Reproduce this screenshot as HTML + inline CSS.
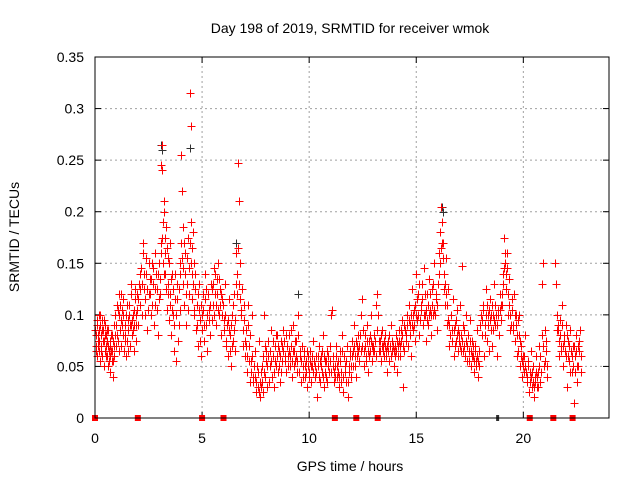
<!DOCTYPE html>
<html><head><meta charset="utf-8"><style>
html,body{margin:0;padding:0;background:#fff;}
svg{display:block;font-family:"Liberation Sans",sans-serif;}
</style></head><body>
<svg id="chart" width="640" height="480">
<text x="350" y="33" font-size="14" text-anchor="middle">Day 198 of 2019, SRMTID for receiver wmok</text>
<text x="350" y="471" font-size="14" text-anchor="middle">GPS time / hours</text>
<text transform="translate(19,237) rotate(-90)" font-size="14" text-anchor="middle">SRMTID / TECUs</text>
<g id="grid"></g>
<g id="ticks"></g>
<g id="black"></g>
<g id="red"></g>
<rect x="95" y="57" width="514" height="361" fill="none" stroke="#000" stroke-width="1"/>
</svg>
<script>
const xTicks = [0,5,10,15,20];
const yTicks = [0,0.05,0.1,0.15,0.2,0.25,0.3,0.35];
const yTickLabels = ["0","0.05","0.1","0.15","0.2","0.25","0.3","0.35"];
const redPts = [[0.02,.085],[0.05,.07],[0.08,.095],[0.1,.06],[0.12,.08],[0.15,.075],[0.18,.1],[0.2,.065],[0.22,.09],[0.25,.055],[0.28,.08],[0.3,.07],[0.33,.095],[0.35,.06],[0.38,.085],[0.4,.075],[0.42,.05],[0.45,.065],[0.48,.09],[0.5,.07],[0.52,.08],[0.55,.06],[0.58,.075],[0.6,.05],[0.62,.085],[0.65,.065],[0.68,.07],[0.7,.045],[0.72,.06],[0.75,.08],[0.78,.055],[0.8,.065],[0.82,.04],[0.85,.075],[0.88,.09],[0.9,.06],[0.92,.1],[0.95,.08],[0.98,.07],
[1.0,.09],[1.03,.11],[1.06,.075],[1.1,.1],[1.13,.12],[1.16,.085],[1.2,.095],[1.23,.07],[1.26,.105],[1.3,.08],[1.33,.115],[1.36,.065],[1.4,.09],[1.43,.1],[1.46,.06],[1.5,.075],[1.53,.095],[1.56,.085],[1.6,.11],[1.63,.07],[1.66,.09],[1.7,.13],[1.73,.08],[1.76,.1],[1.8,.065],[1.83,.09],[1.86,.115],[1.9,.075],[1.93,.1],[1.96,.12],
[2.0,.09],[2.05,.13],[2.1,.11],[2.15,.145],[2.2,.1],[2.25,.17],[2.3,.125],[2.35,.115],[2.4,.14],[2.45,.085],[2.5,.12],[2.55,.135],[2.6,.1],[2.65,.15],[2.7,.13],[2.75,.09],[2.8,.11],[2.85,.14],[2.9,.125],[2.95,.08],
[3.0,.15],[3.03,.12],[3.06,.17],[3.1,.245],[3.12,.265],[3.15,.24],[3.18,.19],[3.2,.14],[3.22,.21],[3.25,.175],[3.28,.16],[3.3,.125],[3.33,.185],[3.36,.105],[3.4,.155],[3.43,.13],[3.46,.095],[3.48,.17],
[3.5,.12],[3.55,.08],[3.6,.14],[3.65,.1],[3.7,.065],[3.75,.115],[3.8,.055],[3.85,.13],[3.9,.09],[3.95,.15],[3.98,.105],
[4.0,.17],[4.03,.255],[4.06,.22],[4.1,.185],[4.13,.145],[4.16,.11],[4.2,.16],[4.25,.09],[4.3,.13],[4.35,.175],[4.4,.12],[4.45,.315],[4.47,.283],[4.49,.19],[4.52,.165],[4.55,.14],[4.58,.18],[4.6,.1],[4.63,.15],[4.66,.125],[4.7,.085],
[4.75,.11],[4.8,.07],[4.85,.13],[4.9,.095],[4.95,.06],[5.0,.1],[5.05,.12],[5.1,.075],[5.15,.14],[5.2,.09],[5.25,.065],[5.3,.105],[5.35,.08],[5.4,.13],[5.45,.095],
[5.5,.11],[5.55,.145],[5.6,.12],[5.65,.09],[5.7,.135],[5.75,.15],[5.8,.1],[5.85,.125],[5.9,.08],[5.95,.115],[6.0,.095],[6.05,.13],
[6.1,.07],[6.15,.09],[6.2,.06],[6.25,.115],[6.3,.08],[6.35,.05],[6.4,.1],[6.45,.075],[6.5,.12],[6.55,.065],[6.6,.16],[6.65,.14],[6.7,.247],[6.72,.21],[6.75,.15],[6.8,.1],[6.85,.125],[6.9,.07],[6.95,.095],
[7.0,.06],[7.05,.085],[7.1,.045],[7.15,.11],[7.2,.07],[7.25,.035],[7.3,.055],[7.35,.1],[7.4,.04],[7.45,.065],[7.5,.025],[7.55,.05],[7.6,.03],[7.65,.075],[7.7,.02],[7.75,.045],[7.8,.035],[7.85,.06],[7.9,.1],[7.95,.04],
[8.0,.065],[8.05,.03],[8.1,.075],[8.15,.05],[8.2,.085],[8.25,.04],[8.3,.06],[8.35,.03],[8.4,.07],[8.45,.05],[8.5,.08],[8.55,.045],[8.6,.065],[8.65,.035],[8.7,.075],[8.75,.055],[8.8,.085],[8.85,.06],[8.9,.045],[8.95,.07],
[9.0,.06],[9.05,.08],[9.1,.05],[9.15,.07],[9.2,.04],[9.25,.09],[9.3,.065],[9.35,.055],[9.4,.075],[9.45,.045],[9.5,.1],[9.55,.06],[9.6,.035],[9.65,.07],[9.7,.05],[9.75,.065],[9.8,.04],[9.85,.055],[9.9,.03],[9.95,.06],
[10.0,.045],[10.05,.065],[10.1,.035],[10.15,.05],[10.2,.075],[10.25,.04],[10.3,.06],[10.35,.02],[10.4,.05],[10.45,.07],[10.5,.035],[10.55,.06],[10.6,.045],[10.65,.08],[10.7,.03],[10.75,.055],[10.8,.04],[10.85,.065],[10.9,.05],[10.95,.07],
[11.0,.045],[11.05,.105],[11.1,.06],[11.15,.035],[11.2,.05],[11.25,.07],[11.3,.04],[11.35,.055],[11.4,.03],[11.45,.065],[11.5,.045],[11.55,.08],[11.6,.025],[11.65,.05],[11.7,.035],[11.75,.07],[11.8,.02],[11.85,.045],[11.9,.06],[11.95,.04],
[12.0,.075],[12.05,.05],[12.1,.09],[12.15,.06],[12.2,.04],[12.25,.07],[12.3,.08],[12.35,.055],[12.4,.065],[12.45,.115],[12.5,.085],[12.55,.05],[12.6,.07],[12.65,.06],[12.7,.09],[12.75,.045],[12.8,.075],[12.85,.065],[12.9,.1],[12.95,.055],
[13.0,.07],[13.05,.08],[13.1,.06],[13.15,.12],[13.2,.1],[13.25,.065],[13.3,.075],[13.35,.055],[13.4,.085],[13.45,.07],[13.5,.06],[13.55,.08],[13.6,.065],[13.65,.045],[13.7,.075],[13.75,.055],[13.8,.09],[13.85,.065],[13.9,.07],[13.95,.05],[14.0,.06],[14.05,.08],[14.1,.045],[14.15,.07],[14.2,.085],[14.25,.06],[14.3,.075],[14.35,.095],[14.4,.03],[14.45,.065],
[14.5,.08],[14.55,.1],[14.6,.07],[14.65,.11],[14.7,.09],[14.75,.06],[14.8,.125],[14.85,.085],[14.9,.105],[14.95,.075],[15.0,.14],[15.05,.095],[15.1,.12],[15.15,.08],[15.2,.11],[15.25,.13],[15.3,.09],[15.35,.145],[15.4,.1],[15.45,.075],
[15.5,.12],[15.55,.09],[15.6,.135],[15.65,.105],[15.7,.08],[15.75,.125],[15.8,.1],[15.85,.15],[15.9,.115],[15.95,.085],[16.0,.13],[16.05,.16],[16.1,.18],[16.15,.205],[16.2,.19],[16.25,.17],[16.3,.14],[16.35,.11],[16.4,.155],[16.45,.09],
[16.5,.125],[16.55,.07],[16.6,.1],[16.65,.085],[16.7,.115],[16.75,.06],[16.8,.09],[16.85,.075],[16.9,.105],[16.95,.065],
[17.0,.08],[17.05,.11],[17.1,.065],[17.15,.147],[17.2,.09],[17.25,.07],[17.3,.1],[17.35,.055],[17.4,.08],[17.45,.065],[17.5,.095],[17.55,.05],[17.6,.075],[17.65,.06],[17.7,.045],[17.75,.07],[17.8,.055],[17.85,.085],[17.9,.04],[17.95,.065],
[18.0,.1],[18.05,.08],[18.1,.11],[18.15,.06],[18.2,.09],[18.25,.125],[18.3,.075],[18.35,.1],[18.4,.065],[18.45,.115],[18.5,.085],[18.55,.07],[18.6,.1],[18.65,.13],[18.7,.09],[18.75,.06],[18.8,.105],[18.85,.08],[18.9,.12],[18.95,.095],
[19.0,.11],[19.05,.14],[19.1,.175],[19.15,.15],[19.2,.125],[19.25,.16],[19.3,.1],[19.35,.135],[19.4,.085],[19.45,.115],
[19.5,.09],[19.55,.12],[19.6,.075],[19.65,.1],[19.7,.06],[19.75,.095],[19.8,.08],[19.85,.05],[19.9,.07],[19.95,.04],
[20.0,.06],[20.05,.045],[20.1,.08],[20.15,.035],[20.2,.055],[20.25,.025],[20.3,.045],[20.35,.065],[20.4,.03],[20.45,.05],[20.5,.02],[20.55,.04],[20.6,.06],[20.65,.03],[20.7,.045],[20.75,.07],[20.8,.035],[20.85,.13],[20.9,.15],[20.95,.05],
[21.0,.085],[21.05,.065],[21.1,.04],
[21.5,.15],[21.55,.1],[21.6,.085],[21.65,.06],[21.7,.095],[21.75,.07],[21.8,.11],[21.85,.05],[21.9,.08],[21.95,.065],
[22.0,.09],[22.05,.03],[22.1,.075],[22.15,.055],[22.2,.085],[22.25,.045],[22.3,.07],[22.35,.015],[22.4,.06],[22.45,.08],[22.5,.035],[22.55,.05],[22.6,.065],[22.65,.085],[22.7,.045]];
const redPts2 = [[0.03,.065],[0.07,.08],[0.11,.09],[0.14,.07],[0.17,.085],[0.21,.075],[0.24,.1],[0.27,.065],[0.31,.085],[0.36,.075],[0.41,.095],[0.46,.08],[0.51,.06],[0.56,.085],[0.61,.07],[0.66,.055],[0.71,.075],[0.76,.065],[0.81,.08],[0.86,.055],[0.91,.07],[0.96,.09],
[1.02,.08],[1.08,.105],[1.12,.065],[1.18,.11],[1.22,.12],[1.28,.09],[1.32,.1],[1.38,.075],[1.42,.08],[1.48,.11],[1.52,.065],[1.58,.1],[1.62,.09],[1.68,.12],[1.72,.095],[1.78,.085],[1.82,.105],[1.88,.125],[1.92,.09],[1.98,.105],
[2.03,.115],[2.08,.14],[2.12,.125],[2.18,.13],[2.22,.16],[2.28,.14],[2.32,.1],[2.38,.155],[2.42,.125],[2.48,.105],[2.52,.15],[2.58,.12],[2.62,.135],[2.68,.11],[2.72,.145],[2.78,.125],[2.82,.16],[2.88,.105],[2.92,.14],[2.97,.115],
[3.02,.135],[3.08,.16],[3.14,.175],[3.19,.15],[3.24,.2],[3.29,.14],[3.34,.165],[3.39,.12],[3.44,.15],[3.49,.11],[3.54,.135],[3.59,.105],[3.64,.125],[3.69,.09],[3.74,.14],[3.79,.1],[3.84,.115],[3.89,.075],[3.94,.125],[3.99,.14],
[4.04,.155],[4.09,.13],[4.14,.17],[4.19,.14],[4.24,.12],[4.29,.155],[4.34,.105],[4.39,.145],[4.44,.17],[4.5,.15],[4.54,.115],[4.59,.13],[4.64,.105],[4.69,.14],[4.74,.09],[4.79,.12],[4.84,.105],[4.89,.075],[4.94,.11],[4.99,.085],
[5.04,.105],[5.09,.09],[5.14,.115],[5.19,.125],[5.24,.1],[5.29,.12],[5.34,.095],[5.39,.11],[5.44,.125],[5.49,.13],[5.54,.1],[5.59,.14],[5.64,.11],[5.69,.12],[5.74,.105],[5.79,.135],[5.84,.11],[5.89,.12],[5.94,.1],[5.99,.11],
[6.04,.085],[6.09,.1],[6.14,.075],[6.19,.095],[6.24,.085],[6.29,.065],[6.34,.09],[6.39,.07],[6.44,.11],[6.49,.085],[6.54,.095],[6.59,.13],[6.64,.12],[6.69,.165],[6.74,.13],[6.79,.115],[6.84,.105],[6.89,.085],[6.94,.11],[6.99,.075],
[7.04,.07],[7.09,.06],[7.14,.09],[7.19,.055],[7.24,.08],[7.29,.045],[7.34,.06],[7.39,.035],[7.44,.05],[7.49,.04],[7.54,.035],[7.59,.045],[7.64,.025],[7.69,.035],[7.74,.03],[7.79,.05],[7.84,.025],[7.89,.045],[7.94,.07],[7.99,.055],
[8.04,.05],[8.09,.06],[8.14,.035],[8.19,.065],[8.24,.055],[8.29,.075],[8.34,.045],[8.39,.055],[8.44,.08],[8.49,.06],[8.54,.07],[8.59,.05],[8.64,.06],[8.69,.045],[8.74,.07],[8.79,.065],[8.84,.075],[8.89,.055],[8.94,.08],[8.99,.05],
[9.04,.065],[9.09,.06],[9.14,.085],[9.19,.055],[9.24,.065],[9.29,.05],[9.34,.075],[9.39,.06],[9.44,.055],[9.49,.08],[9.54,.045],[9.59,.065],[9.64,.055],[9.69,.04],[9.74,.06],[9.79,.05],[9.84,.045],[9.89,.065],[9.94,.05],[9.99,.04],
[10.04,.055],[10.09,.05],[10.14,.06],[10.19,.045],[10.24,.055],[10.29,.05],[10.34,.045],[10.39,.06],[10.44,.04],[10.49,.055],[10.54,.05],[10.59,.065],[10.64,.04],[10.69,.06],[10.74,.045],[10.79,.055],[10.84,.035],[10.89,.06],[10.94,.045],[10.99,.055],
[11.04,.1],[11.09,.05],[11.14,.045],[11.19,.04],[11.24,.06],[11.29,.05],[11.34,.045],[11.39,.04],[11.44,.055],[11.49,.035],[11.54,.065],[11.59,.04],[11.64,.06],[11.69,.045],[11.74,.055],[11.79,.035],[11.84,.05],[11.89,.065],[11.94,.05],[11.99,.06],
[12.04,.065],[12.09,.07],[12.14,.05],[12.19,.075],[12.24,.06],[12.29,.065],[12.34,.07],[12.39,.08],[12.44,.1],[12.49,.07],[12.54,.065],[12.59,.08],[12.64,.055],[12.69,.075],[12.74,.065],[12.79,.06],[12.84,.08],[12.89,.075],[12.94,.07],[12.99,.065],
[13.04,.065],[13.09,.075],[13.14,.11],[13.19,.085],[13.24,.075],[13.29,.065],[13.34,.08],[13.39,.07],[13.44,.065],[13.49,.075],[13.54,.07],[13.59,.06],[13.64,.07],[13.69,.065],[13.74,.08],[13.79,.07],[13.84,.06],[13.89,.075],[13.94,.065],[13.99,.07],
[14.04,.065],[14.09,.075],[14.14,.06],[14.19,.075],[14.24,.07],[14.29,.085],[14.34,.08],[14.39,.07],[14.44,.09],[14.49,.085],[14.54,.075],[14.59,.09],[14.64,.095],[14.69,.08],[14.74,.1],[14.79,.09],[14.84,.1],[14.89,.09],[14.94,.11],[14.99,.1],
[15.04,.115],[15.09,.1],[15.14,.13],[15.19,.095],[15.24,.105],[15.29,.115],[15.34,.1],[15.39,.12],[15.44,.105],[15.49,.095],[15.54,.11],[15.59,.1],[15.64,.12],[15.69,.1],[15.74,.11],[15.79,.13],[15.84,.105],[15.89,.1],[15.94,.12],[15.99,.11],
[16.04,.14],[16.09,.15],[16.14,.165],[16.19,.17],[16.24,.155],[16.29,.125],[16.34,.13],[16.39,.12],[16.44,.11],[16.49,.095],[16.54,.09],[16.59,.08],[16.64,.1],[16.69,.075],[16.74,.085],[16.79,.07],[16.84,.095],[16.89,.08],[16.94,.085],[16.99,.075],
[17.04,.07],[17.09,.08],[17.14,.075],[17.19,.065],[17.24,.085],[17.29,.06],[17.34,.075],[17.39,.07],[17.44,.055],[17.49,.075],[17.54,.065],[17.59,.06],[17.64,.07],[17.69,.055],[17.74,.065],[17.79,.05],[17.84,.06],[17.89,.055],[17.94,.05],[17.99,.09],
[18.04,.1],[18.09,.095],[18.14,.105],[18.19,.08],[18.24,.1],[18.29,.11],[18.34,.09],[18.39,.105],[18.44,.095],[18.49,.1],[18.54,.11],[18.59,.085],[18.64,.095],[18.69,.11],[18.74,.1],[18.79,.09],[18.84,.1],[18.89,.105],[18.94,.11],[18.99,.12],
[19.04,.13],[19.09,.145],[19.14,.16],[19.19,.14],[19.24,.145],[19.29,.12],[19.34,.11],[19.39,.1],[19.44,.09],[19.49,.105],[19.54,.085],[19.59,.1],[19.64,.09],[19.69,.08],[19.74,.065],[19.79,.1],[19.84,.075],[19.89,.06],[19.94,.055],[19.99,.05],
[20.04,.06],[20.09,.05],[20.14,.045],[20.19,.04],[20.24,.05],[20.29,.035],[20.34,.04],[20.39,.045],[20.44,.035],[20.49,.03],[20.54,.035],[20.59,.045],[20.64,.04],[20.69,.03],[20.74,.05],[20.79,.06],[20.84,.045],[20.89,.08],[20.94,.07],[20.99,.055],
[21.04,.075],[21.09,.05],[21.52,.13],[21.57,.085],[21.62,.09],[21.67,.075],[21.72,.08],[21.77,.065],[21.82,.09],[21.87,.07],[21.92,.075],[21.97,.06],[22.02,.08],[22.07,.06],[22.12,.07],[22.17,.045],[22.22,.065],[22.27,.06],[22.32,.05],[22.37,.07],[22.42,.045],[22.47,.065],[22.52,.05],[22.57,.07],[22.62,.075],[22.67,.06]];
const blackPts = [[3.1,.265],[3.15,.26],[4.45,.262],[9.5,.12],[16.2,.205],[16.25,.2],[18.6,.1],[6.6,.17]];
const redZeroHours = [0,2,5,6,11.2,12.2,13.2,20.3,21.4,22.3];
const blackZeroHours = [18.8];

const X0=95,X1=609,Y0=418,Y1=57,XMAX=24,YMAX=0.35;
function xs(h){return X0+(X1-X0)*h/XMAX;}
function ys(v){return Y0-(Y0-Y1)*v/YMAX;}
const NS="http://www.w3.org/2000/svg";
function mk(tag,attrs,parent){const e=document.createElementNS(NS,tag);for(const k in attrs)e.setAttribute(k,attrs[k]);parent.appendChild(e);return e;}
const grid=document.getElementById('grid'),ticks=document.getElementById('ticks');
xTicks.forEach(function(t){
  const x=xs(t);
  if(t>0){const g=mk('line',{x1:x,y1:Y0,x2:x,y2:Y1,stroke:'#a0a0a0','stroke-dasharray':'2,3'},grid);
  
  }
  mk('line',{x1:x,y1:Y0,x2:x,y2:Y0-6,stroke:'#000'},ticks);
  mk('line',{x1:x,y1:Y1,x2:x,y2:Y1+6,stroke:'#000'},ticks);
  const l=mk('text',{x:x,y:443,'font-size':14,'text-anchor':'middle'},ticks);
  l.textContent=String(t);
  
  
});
yTicks.forEach(function(t,i){
  const y=ys(t);
  if(t>0&&t<YMAX){const g=mk('line',{x1:X0,y1:y,x2:X1,y2:y,stroke:'#a0a0a0','stroke-dasharray':'2,3'},grid);
  
  }
  mk('line',{x1:X0,y1:y,x2:X0+6,y2:y,stroke:'#000'},ticks);
  mk('line',{x1:X1,y1:y,x2:X1-6,y2:y,stroke:'#000'},ticks);
  const l=mk('text',{x:84,y:y+5,'font-size':14,'text-anchor':'end'},ticks);
  l.textContent=yTickLabels[i];
  
  
});
function plus(g,h,v,color,name){
  const x=Math.round(xs(h))+0.5,y=Math.round(ys(v))+0.5;
  const p=mk('path',{d:'M'+(x-4)+' '+y+'H'+(x+4)+'M'+x+' '+(y-4)+'V'+(y+4),stroke:color,'stroke-width':1,fill:'none'},g);
  
  
}
const gb=document.getElementById('black'),gr=document.getElementById('red');
blackPts.forEach(function(p){plus(gb,p[0],p[1],'#303030','black-point');});
redPts.forEach(function(p){plus(gr,p[0],p[1],'#ff0000','red-point');});
redPts2.forEach(function(p){plus(gr,p[0],p[1],'#ff0000','red-point');});
blackZeroHours.forEach(function(h){
  const r=mk('rect',{x:xs(h)-1.5,y:Y0-3,width:3,height:6,fill:'#303030'},gb);
  
  
});
redZeroHours.forEach(function(h){
  const r=mk('rect',{x:xs(h)-3,y:Y0-3,width:6,height:6,fill:'#ff0000'},gr);
  
  
});
</script>
</body></html>
